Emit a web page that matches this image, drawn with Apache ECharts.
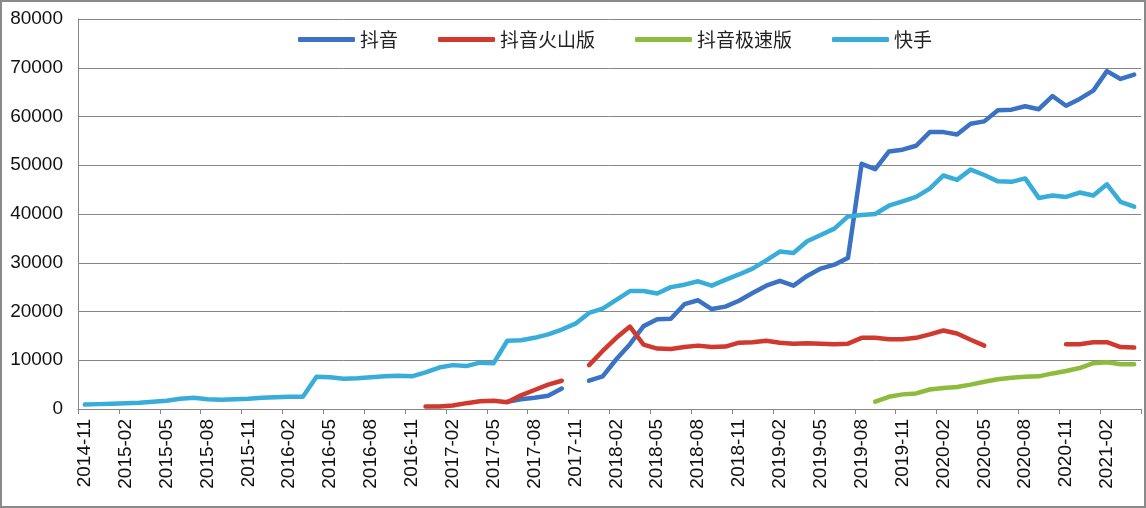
<!DOCTYPE html>
<html>
<head>
<meta charset="utf-8">
<script src="https://cdn.jsdelivr.net/npm/echarts@6/dist/echarts.min.js"></script>
<style>
html,body{margin:0;padding:0;background:#fff;}
#chart{position:absolute;left:0;top:0;width:1146px;height:508px;}
#frame{position:absolute;left:0;top:0;width:1146px;height:508px;box-sizing:border-box;border:2px solid #8a8a8a;pointer-events:none;}
</style>
</head>
<body>
<div id="chart"></div>
<div id="frame"></div>
<script>
const categories = [
'2014-11','2014-12',
'2015-01','2015-02','2015-03','2015-04','2015-05','2015-06','2015-07','2015-08','2015-09','2015-10','2015-11','2015-12',
'2016-01','2016-02','2016-03','2016-04','2016-05','2016-06','2016-07','2016-08','2016-09','2016-10','2016-11','2016-12',
'2017-01','2017-02','2017-03','2017-04','2017-05','2017-06','2017-07','2017-08','2017-09','2017-10','2017-11','2017-12',
'2018-01','2018-02','2018-03','2018-04','2018-05','2018-06','2018-07','2018-08','2018-09','2018-10','2018-11','2018-12',
'2019-01','2019-02','2019-03','2019-04','2019-05','2019-06','2019-07','2019-08','2019-09','2019-10','2019-11','2019-12',
'2020-01','2020-02','2020-03','2020-04','2020-05','2020-06','2020-07','2020-08','2020-09','2020-10','2020-11','2020-12',
'2021-01','2021-02','2021-03','2021-04'
];

const seriesNames = ['抖音', '抖音火山版', '抖音极速版', '快手'];

const douyin = [
null,null,
null,null,null,null,null,null,null,null,null,null,null,null,
null,null,null,null,null,null,null,null,null,null,null,null,
null,null,null,null,null,1500,2000,2300,2700,4200,null,5800,
6700,10200,13300,17000,18400,18500,21500,22300,20500,21000,22200,23800,
25300,26300,25300,27300,28800,29600,31000,50300,49200,52800,53200,54000,
56800,56800,56300,58500,59000,61300,61400,62100,61500,64200,62200,63600,
65300,69300,67700,68600
];

const huoshan = [
null,null,
null,null,null,null,null,null,null,null,null,null,null,null,
null,null,null,null,null,null,null,null,null,null,null,500,
500,700,1200,1600,1700,1400,2800,3900,5000,5800,null,9000,
11900,14600,16900,13200,12400,12300,12700,13000,12700,12800,13600,13700,
14000,13600,13400,13500,13400,13300,13400,14600,14600,14300,14300,14600,
15300,16100,15500,14200,13000,null,null,null,null,null,13300,13300,
13700,13700,12700,12600
];

const jisu = [
null,null,
null,null,null,null,null,null,null,null,null,null,null,null,
null,null,null,null,null,null,null,null,null,null,null,null,
null,null,null,null,null,null,null,null,null,null,null,null,
null,null,null,null,null,null,null,null,null,null,null,null,
null,null,null,null,null,null,null,null,1500,2500,3000,3200,
4000,4300,4500,5000,5600,6100,6400,6600,6700,7300,7800,8400,
9400,9600,9200,9200
];

const kuaishou = [
900,1000,
1100,1200,1300,1500,1700,2100,2300,2000,1900,2000,2100,2300,
2400,2500,2500,6600,6500,6200,6300,6500,6700,6800,6700,7500,
8500,9000,8800,9500,9400,14000,14100,14600,15300,16300,17500,19700,
20600,22400,24200,24200,23700,25000,25500,26200,25300,26500,27600,28800,
30500,32300,32000,34400,35700,37000,39500,39800,40000,41700,42600,43500,
45200,47900,47000,49100,48000,46700,46600,47300,43300,43800,43500,44400,
43800,46100,42500,41500
];

const yTicks = {min: 0, max: 80000, step: 10000};
const colors = ['#3b72c4', '#d0392e', '#8dbb3b', '#38add9'];

const FONT = '"Liberation Sans", "Noto Sans CJK SC", sans-serif';
const chart = echarts.init(document.getElementById('chart'), null, {renderer: 'canvas'});
const dataList = [douyin, huoshan, jisu, kuaishou];

chart.setOption({
  animation: false,
  color: colors,
  textStyle: {fontFamily: FONT},
  legend: {
    data: seriesNames,
    top: 25,
    left: 293,
    icon: 'roundRect',
    itemWidth: 57,
    itemHeight: 5,
    itemGap: 40,
    textStyle: {fontSize: 19, color: '#222', fontFamily: '"Noto Sans CJK SC", sans-serif'}
  },
  grid: {left: 78, right: 5, top: 19, bottom: 99, containLabel: false},
  xAxis: {
    type: 'category',
    data: categories,
    boundaryGap: true,
    axisLine: {show: true, lineStyle: {color: '#868686', width: 1}},
    axisTick: {show: true, interval: 2, length: 5, lineStyle: {color: '#868686'}},
    axisLabel: {interval: 2, rotate: 90, fontSize: 19, color: '#111', margin: 10, fontFamily: FONT},
    splitLine: {show: false}
  },
  yAxis: {
    type: 'value',
    min: yTicks.min,
    max: yTicks.max,
    interval: yTicks.step,
    axisLine: {show: true, lineStyle: {color: '#868686', width: 1}},
    axisTick: {show: false},
    axisLabel: {fontSize: 19, color: '#111', margin: 15, fontFamily: FONT, formatter: v => String(v)},
    splitLine: {show: true, lineStyle: {color: '#868686', width: 1}}
  },
  series: seriesNames.map((name, k) => ({
    name: name,
    type: 'line',
    data: dataList[k],
    symbol: 'none',
    showSymbol: false,
    connectNulls: false,
    lineStyle: {width: 4.5, color: colors[k], cap: 'round', join: 'round'},
    itemStyle: {color: colors[k]}
  }))
});
</script>
</body>
</html>
